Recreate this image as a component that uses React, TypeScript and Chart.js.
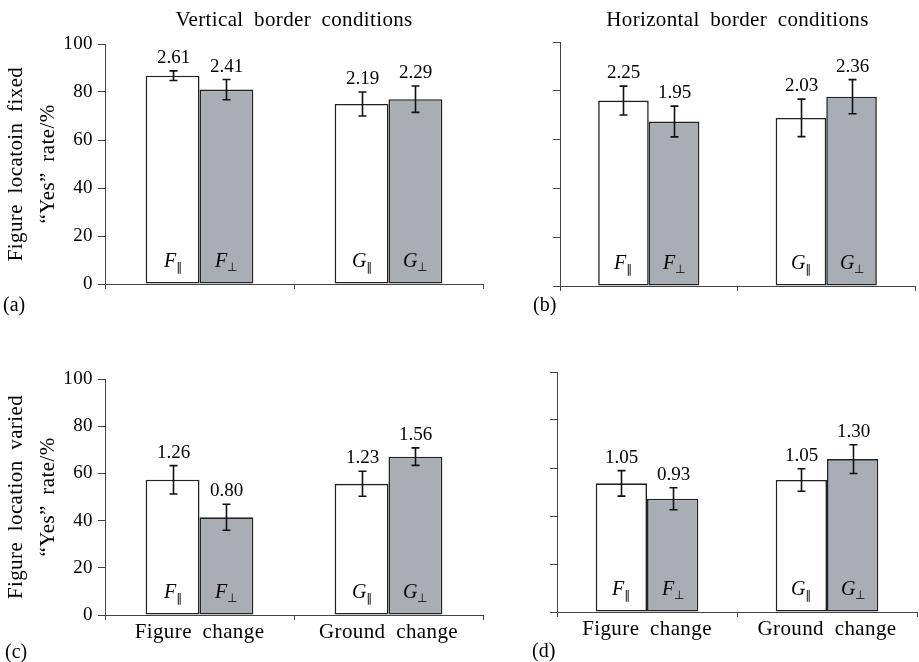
import React, { useEffect, useRef } from 'react';
import { Chart, registerables } from 'chart.js';

Chart.register(...registerables);

const SERIF = '"Liberation Serif", "Times New Roman", serif';

// ---------- data ----------
const categories = ['Figure change', 'Ground change'];
const yTicks = [0, 20, 40, 60, 80, 100];
const barLetters = ['F', 'G'];
const parallelSub = '\u2225';
const perpSub = '\u22A5';

// (a) vertical border, figure location fixed
const aParallel = [86.8, 75.0];
const aPerp = [81.0, 77.0];
const aParallelErr = [2.0, 5.0];
const aPerpErr = [4.2, 5.5];
const aParallelVal = [2.61, 2.19];
const aPerpVal = [2.41, 2.29];

// (b) horizontal border, figure location fixed
const bParallel = [76.0, 68.9];
const bPerp = [67.4, 77.6];
const bParallelErr = [5.9, 7.7];
const bPerpErr = [6.3, 7.0];
const bParallelVal = [2.25, 2.03];
const bPerpVal = [1.95, 2.36];

// (c) vertical border, figure location varied
const cParallel = [57.3, 55.6];
const cPerp = [41.4, 67.1];
const cParallelErr = [6.0, 5.3];
const cPerpErr = [5.5, 3.7];
const cParallelVal = [1.26, 1.23];
const cPerpVal = [0.8, 1.56];

// (d) horizontal border, figure location varied
const dParallel = [53.6, 55.0];
const dPerp = [47.2, 63.7];
const dParallelErr = [5.3, 4.7];
const dPerpErr = [4.6, 6.0];
const dParallelVal = [1.05, 1.05];
const dPerpVal = [0.93, 1.3];

const yTitleFixed = ['Figure locatoin fixed', '\u201CYes\u201D rate/%'];
const yTitleVaried = ['Figure location varied', '\u201CYes\u201D rate/%'];
const colTitleLeft = 'Vertical border conditions';
const colTitleRight = 'Horizontal border conditions';

type Spec = {
  left: number; top: number; width: number; height: number;
  padTop: number; padRight: number; yWidth: number; xHeight: number;
  showYLabels: boolean; showXLabels: boolean;
  yTitle: string[] | null; colTitle: string | null;
  tag: string; tagX: number; tagDy: number;
  par: number[]; perp: number[]; parErr: number[]; perpErr: number[];
  parVal: number[]; perpVal: number[];
};

const panels: Spec[] = [
  {
    left: 0, top: 0, width: 490, height: 320, padTop: 44, padRight: 7, yWidth: 105, xHeight: 36,
    showYLabels: true, showXLabels: false, yTitle: yTitleFixed, colTitle: colTitleLeft,
    tag: '(a)', tagX: 3, tagDy: 27,
    par: aParallel, perp: aPerp, parErr: aParallelErr, perpErr: aPerpErr, parVal: aParallelVal, perpVal: aPerpVal,
  },
  {
    left: 460, top: 0, width: 459, height: 320, padTop: 42, padRight: 4, yWidth: 100, xHeight: 34,
    showYLabels: false, showXLabels: false, yTitle: null, colTitle: colTitleRight,
    tag: '(b)', tagX: 73, tagDy: 25,
    par: bParallel, perp: bPerp, parErr: bParallelErr, perpErr: bPerpErr, parVal: bParallelVal, perpVal: bPerpVal,
  },
  {
    left: 0, top: 320, width: 490, height: 342, padTop: 59, padRight: 7, yWidth: 105, xHeight: 47,
    showYLabels: true, showXLabels: true, yTitle: yTitleVaried, colTitle: null,
    tag: '(c)', tagX: 5, tagDy: 43,
    par: cParallel, perp: cPerp, parErr: cParallelErr, perpErr: cPerpErr, parVal: cParallelVal, perpVal: cPerpVal,
  },
  {
    left: 460, top: 320, width: 459, height: 342, padTop: 52, padRight: 2, yWidth: 97, xHeight: 50,
    showYLabels: false, showXLabels: true, yTitle: null, colTitle: null,
    tag: '(d)', tagX: 72, tagDy: 45,
    par: dParallel, perp: dPerp, parErr: dParallelErr, perpErr: dPerpErr, parVal: dParallelVal, perpVal: dPerpVal,
  },
];

const decorPlugin = {
  id: 'decor',
  beforeDraw(chart: any) {
    const ctx = chart.ctx as any;
    ctx.letterSpacing = '0.4px';
    ctx.wordSpacing = '5px';
  },
  beforeDatasetsDraw(chart: any) {
    const ctx = chart.ctx as any;
    ctx.letterSpacing = '0px';
    ctx.wordSpacing = '0px';
  },
  afterDatasetsDraw(chart: any) {
    const ctx = chart.ctx as any;
    const spec: Spec = chart.options.plugins.decor.spec;
    const yScale = chart.scales.y;
    const area = chart.chartArea;
    const errs = [spec.parErr, spec.perpErr];
    const vals = [spec.parVal, spec.perpVal];
    const subs = [parallelSub, perpSub];
    ctx.save();
    ctx.letterSpacing = '0px';
    ctx.wordSpacing = '0px';
    for (let d = 0; d < 2; d++) {
      const meta = chart.getDatasetMeta(d);
      const data = chart.data.datasets[d].data as number[];
      meta.data.forEach((el: any, i: number) => {
        const v = data[i];
        const e = errs[d][i];
        const x = Math.round(el.x) + 0.5;
        const yT = yScale.getPixelForValue(v + e);
        const yB = yScale.getPixelForValue(v - e);
        // error bar
        ctx.strokeStyle = '#111';
        ctx.lineWidth = 1.6;
        ctx.beginPath();
        ctx.moveTo(x, yT); ctx.lineTo(x, yB);
        ctx.moveTo(x - 4, yT); ctx.lineTo(x + 4, yT);
        ctx.moveTo(x - 4, yB); ctx.lineTo(x + 4, yB);
        ctx.stroke();
        // value label
        ctx.fillStyle = '#000';
        ctx.font = `19px ${SERIF}`;
        ctx.textAlign = 'center';
        ctx.textBaseline = 'alphabetic';
        ctx.fillText(vals[d][i].toFixed(2), x, yT - 8);
        // inner label
        const letter = barLetters[i];
        ctx.font = `italic 20px ${SERIF}`;
        const wL = ctx.measureText(letter).width;
        ctx.font = `12px "DejaVu Sans", ${SERIF}`;
        const wS = ctx.measureText(subs[d]).width;
        const total = wL + wS;
        const x0 = Math.round(x - total / 2);
        const base = Math.round(area.bottom - 17);
        ctx.textAlign = 'left';
        ctx.font = `italic 20px ${SERIF}`;
        ctx.fillText(letter, x0, base);
        ctx.font = `12px "DejaVu Sans", ${SERIF}`;
        ctx.fillText(subs[d], Math.round(x0 + wL), base + 4);
      });
    }
    // column title
    ctx.letterSpacing = '0.35px';
    ctx.wordSpacing = '5px';
    ctx.fillStyle = '#000';
    if (spec.colTitle) {
      ctx.font = `21px ${SERIF}`;
      ctx.textAlign = 'center';
      ctx.textBaseline = 'alphabetic';
      ctx.fillText(spec.colTitle, (area.left + area.right) / 2, 26);
    }
    // panel tag
    ctx.letterSpacing = '0px';
    ctx.wordSpacing = '0px';
    ctx.font = `20px ${SERIF}`;
    ctx.textAlign = 'left';
    ctx.textBaseline = 'alphabetic';
    ctx.fillText(spec.tag, spec.tagX, area.bottom + spec.tagDy);
    ctx.restore();
  },
};

function Panel({ spec }: { spec: Spec }) {
  const ref = useRef<HTMLCanvasElement | null>(null);
  useEffect(() => {
    if (!ref.current) return;
    const chart = new Chart(ref.current, {
      type: 'bar',
      data: {
        labels: categories,
        datasets: [
          {
            data: spec.par,
            backgroundColor: '#ffffff',
            borderColor: '#222',
            borderWidth: 1.6,
            borderSkipped: false,
            categoryPercentage: 0.57,
            barPercentage: 1.0,
          },
          {
            data: spec.perp,
            backgroundColor: '#a9aeb4',
            borderColor: '#222',
            borderWidth: 1.6,
            borderSkipped: false,
            categoryPercentage: 0.57,
            barPercentage: 1.0,
          },
        ],
      },
      options: {
        animation: false,
        responsive: false,
        maintainAspectRatio: false,
        events: [],
        layout: { padding: { top: spec.padTop, right: spec.padRight, left: 0, bottom: 0 } },
        plugins: {
          legend: { display: false },
          tooltip: { enabled: false },
          title: { display: false },
          decor: { spec },
        } as any,
        scales: {
          x: {
            type: 'category',
            offset: true,
            grid: { offset: true, drawOnChartArea: false, drawTicks: true, tickLength: 5, color: '#444', lineWidth: 1 },
            border: { display: true, color: '#444', width: 1 },
            ticks: {
              display: spec.showXLabels,
              color: '#000',
              font: { family: SERIF, size: 21 },
              padding: 0,
              maxRotation: 0,
              autoSkip: false,
            },
            afterFit: (s: any) => { s.height = spec.xHeight; },
          },
          y: {
            min: 0,
            max: 100,
            afterBuildTicks: (s: any) => { s.ticks = yTicks.map((v) => ({ value: v })); },
            ticks: { display: spec.showYLabels, color: '#000', font: { family: SERIF, size: 19 }, padding: 5 },
            grid: { drawOnChartArea: false, drawTicks: true, tickLength: 7, color: '#444', lineWidth: 1 },
            border: { display: true, color: '#444', width: 1 },
            title: {
              display: !!spec.yTitle,
              text: spec.yTitle || '',
              color: '#000',
              font: { family: SERIF, size: 21, lineHeight: 32 / 21 },
              padding: 0,
            },
            afterFit: (s: any) => { s.width = spec.yWidth; },
          },
        },
      } as any,
      plugins: [decorPlugin],
    });
    return () => chart.destroy();
  }, [spec]);
  return (
    <canvas
      ref={ref}
      width={spec.width}
      height={spec.height}
      style={{ position: 'absolute', left: spec.left, top: spec.top, width: spec.width, height: spec.height }}
    />
  );
}

export default function App() {
  return (
    <div style={{ position: 'absolute', left: 0, top: 0, width: 919, height: 662, background: '#fff' }}>
      {panels.map((p) => (
        <Panel key={p.tag} spec={p} />
      ))}
    </div>
  );
}
